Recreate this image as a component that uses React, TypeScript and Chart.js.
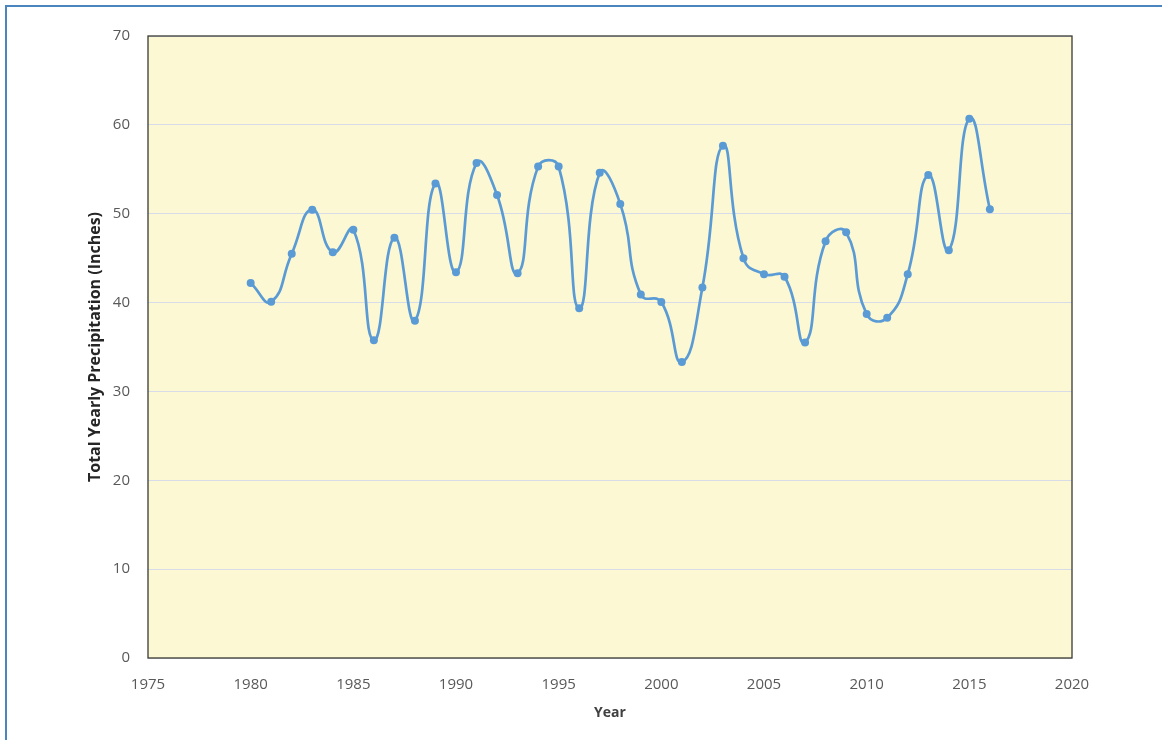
import React, { useEffect, useRef } from "react";
import { Chart, registerables } from "chart.js";

Chart.register(...registerables);

const years: number[] = [
  1980, 1981, 1982, 1983, 1984, 1985, 1986, 1987, 1988, 1989,
  1990, 1991, 1992, 1993, 1994, 1995, 1996, 1997, 1998, 1999,
  2000, 2001, 2002, 2003, 2004, 2005, 2006, 2007, 2008, 2009,
  2010, 2011, 2012, 2013, 2014, 2015, 2016,
];
const precipitation: number[] = [
  42.2, 40.1, 45.5, 50.45, 45.65, 48.2, 35.75, 47.3, 37.96, 53.4,
  43.4, 55.7, 52.1, 43.3, 55.3, 55.3, 39.35, 54.6, 51.1, 40.9,
  40.06, 33.3, 41.7, 57.65, 45.0, 43.2, 42.9, 35.5, 46.9, 47.9,
  38.7, 38.3, 43.2, 54.35, 45.9, 60.7, 50.5,
];
const xMin = 1975;
const xMax = 2020;
const yMin = 0;
const yMax = 70;
const xTitle = "Year";
const yTitle = "Total Yearly Precipitation (Inches)";

const plotArea = {
  id: "plotArea",
  beforeDraw(chart: any) {
    const { ctx, chartArea } = chart;
    ctx.save();
    ctx.fillStyle = "#fbf8d3";
    ctx.fillRect(chartArea.left, chartArea.top, chartArea.width, chartArea.height);
    ctx.restore();
  },
  afterDatasetsDraw(chart: any) {
    const { ctx, chartArea } = chart;
    ctx.save();
    ctx.strokeStyle = "#3a3a32";
    ctx.lineWidth = 1.3;
    ctx.strokeRect(chartArea.left, chartArea.top, chartArea.width, chartArea.height);
    ctx.restore();
  },
};

export default function App() {
  const ref = useRef<HTMLCanvasElement>(null);
  useEffect(() => {
    if (!ref.current) return;
    const chart = new Chart(ref.current, {
      type: "line",
      data: {
        datasets: [
          {
            data: years.map((y, i) => ({ x: y, y: precipitation[i] })),
            borderColor: "#5b9bd5",
            backgroundColor: "#5b9bd5",
            borderWidth: 2.7,
            pointRadius: 4,
            pointBorderWidth: 0,
            tension: 0.5,
            cubicInterpolationMode: "default",
          },
        ],
      },
      plugins: [plotArea],
      options: {
        animation: false,
        responsive: false,
        devicePixelRatio: 1,
        layout: { padding: { left: 0, top: 36, right: 90, bottom: 0 } },
        plugins: { legend: { display: false }, tooltip: { enabled: false } },
        scales: {
          x: {
            type: "linear",
            min: xMin,
            max: xMax,
            ticks: {
              stepSize: 5,
              color: "#595959",
              padding: 18,
              font: { family: "'Open Sans'", size: 15 },
              callback: (v: any) => String(v),
            },
            grid: { display: false, drawTicks: false },
            border: { display: false },
            title: {
              display: true,
              text: xTitle,
              color: "#404040",
              font: { family: "'Open Sans'", size: 14, weight: "bold" },
              padding: { top: 0, bottom: 19 },
            },
            afterFit: (s: any) => {
              s.height = 82;
            },
          },
          y: {
            min: yMin,
            max: yMax,
            ticks: {
              stepSize: 10,
              color: "#595959",
              padding: 18,
              font: { family: "'Open Sans'", size: 15 },
            },
            grid: { color: "#d8dbe8", lineWidth: 1, drawTicks: false },
            border: { display: false },
            title: {
              display: true,
              text: yTitle,
              color: "#262626",
              font: { family: "'Open Sans'", size: 16, weight: "bold" },
              padding: { top: 86, bottom: 0 },
            },
            afterFit: (s: any) => {
              s.width = 148;
            },
          },
        },
      },
    });
    return () => chart.destroy();
  }, []);
  return (
    <div style={{ position: "absolute", left: 0, top: 0, width: 1162, height: 740, background: "#fff", overflow: "hidden" }}>
      <canvas ref={ref} width={1162} height={740} style={{ position: "absolute", left: 0, top: 0 }} />
      <div
        style={{
          position: "absolute",
          left: 5,
          top: 5,
          width: 1170,
          height: 750,
          border: "2px solid #4a86bd",
          boxSizing: "border-box",
          pointerEvents: "none",
        }}
      />
    </div>
  );
}
